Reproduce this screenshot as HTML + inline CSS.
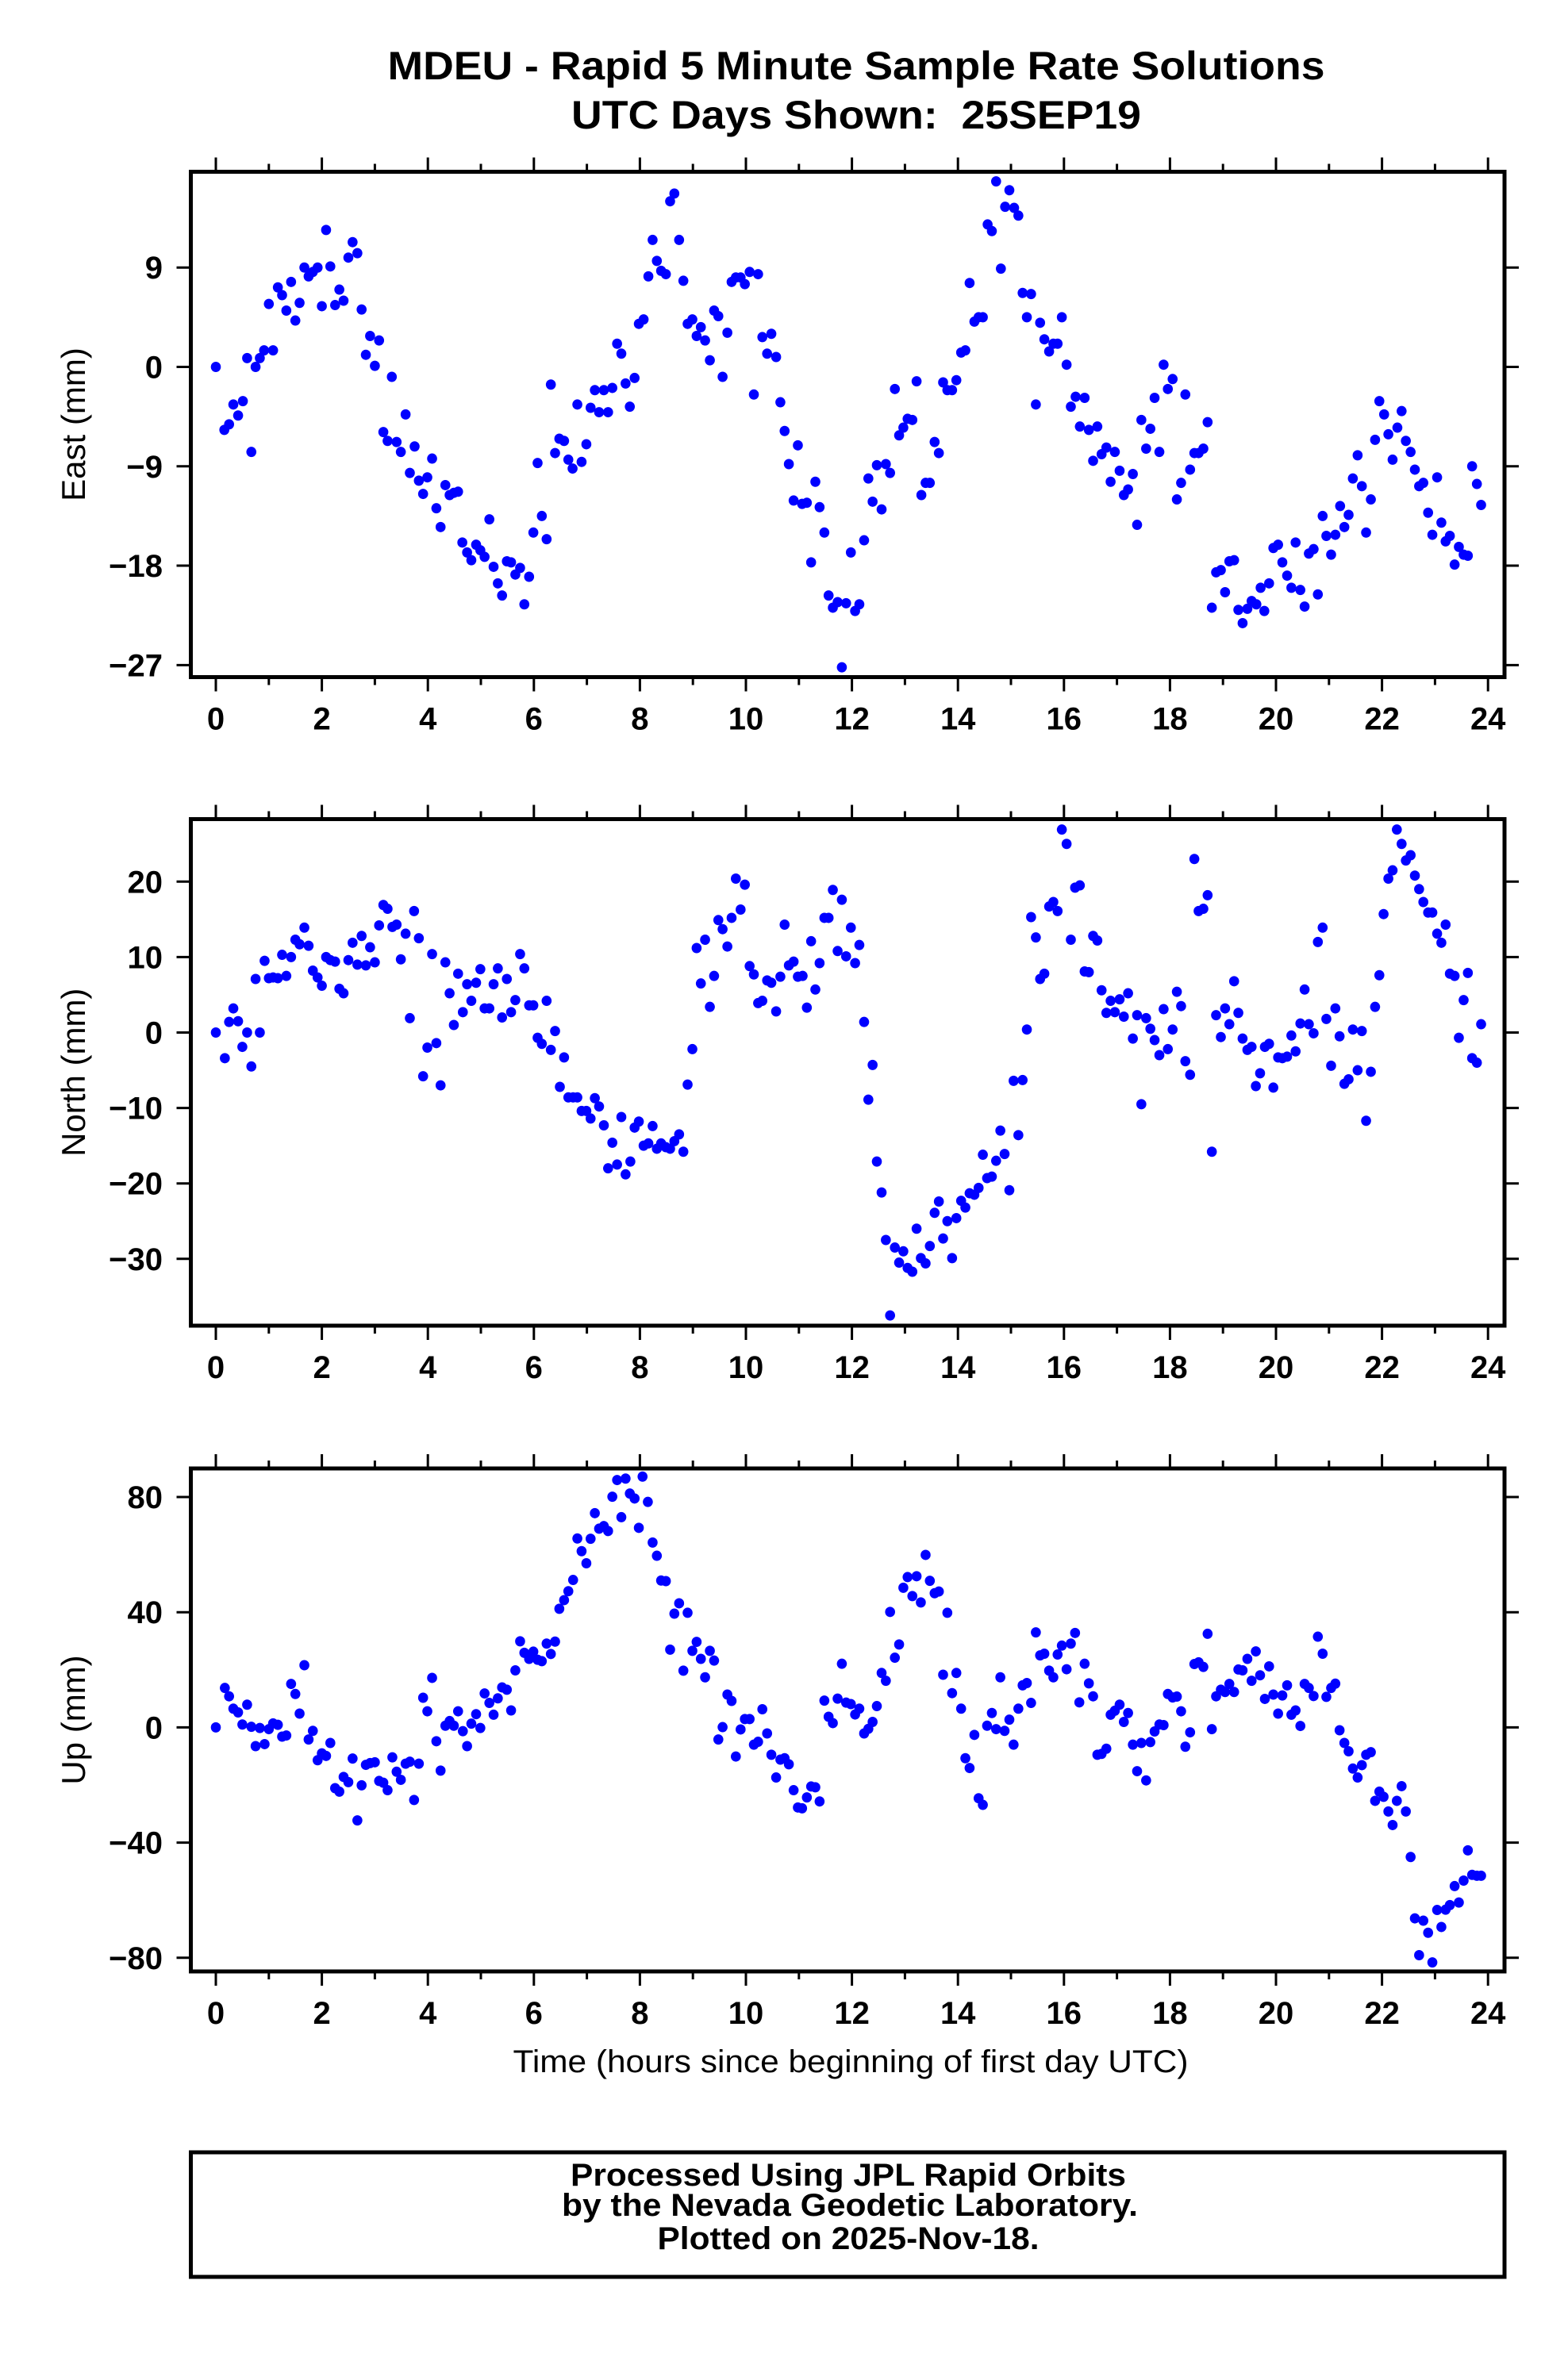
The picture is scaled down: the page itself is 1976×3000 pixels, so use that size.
<!DOCTYPE html>
<html><head><meta charset="utf-8"><style>body{margin:0;background:#fff}svg{display:block}text{font-family:"Liberation Sans",sans-serif}</style></head>
<body>
<svg id="chart" width="1976" height="3000" viewBox="0 0 1976 3000" xmlns="http://www.w3.org/2000/svg">
<text x="1079" y="100" text-anchor="middle" font-size="50" font-weight="bold" textLength="1181" lengthAdjust="spacingAndGlyphs">MDEU - Rapid 5 Minute Sample Rate Solutions</text>
<text x="1079" y="162" text-anchor="middle" font-size="50" font-weight="bold" textLength="718" lengthAdjust="spacingAndGlyphs" xml:space="preserve">UTC Days Shown:  25SEP19</text>
<g id="plots"></g>
<text x="1072" y="2612" text-anchor="middle" font-size="40" textLength="851" lengthAdjust="spacingAndGlyphs">Time (hours since beginning of first day UTC)</text>
<rect x="240.5" y="2713" width="1655.5" height="157" fill="none" stroke="#000" stroke-width="5"/>
<text x="1069" y="2755" text-anchor="middle" font-size="40" font-weight="bold" textLength="700" lengthAdjust="spacingAndGlyphs">Processed Using JPL Rapid Orbits</text>
<text x="1071" y="2793" text-anchor="middle" font-size="40" font-weight="bold" textLength="726" lengthAdjust="spacingAndGlyphs">by the Nevada Geodetic Laboratory.</text>
<text x="1069" y="2835" text-anchor="middle" font-size="40" font-weight="bold" textLength="481" lengthAdjust="spacingAndGlyphs">Plotted on 2025-Nov-18.</text>
</svg>
<script>
const xTicks = [0,2,4,6,8,10,12,14,16,18,20,22,24];
const eastTicks = [9,0,-9,-18,-27];
const northTicks = [20,10,0,-10,-20,-30];
const upTicks = [80,40,0,-40,-80];

const eastTimes = [0,0.16,0.25,0.33,0.42,0.51,0.59,0.67,0.75,0.83,0.91,1.0,1.08,1.17,1.25,1.33,1.42,1.5,1.58,1.67,1.75,1.83,1.92,2.0,2.08,2.16,2.25,2.33,2.41,2.5,2.58,2.67,2.75,2.83,2.91,3.0,3.08,3.16,3.24,3.32,3.41,3.49,3.58,3.66,3.75,3.83,3.91,3.99,4.08,4.16,4.24,4.33,4.41,4.49,4.57,4.65,4.74,4.82,4.91,4.99,5.07,5.16,5.24,5.32,5.4,5.49,5.57,5.65,5.74,5.82,5.91,5.99,6.07,6.15,6.24,6.32,6.4,6.48,6.57,6.65,6.73,6.82,6.9,6.99,7.07,7.15,7.23,7.32,7.4,7.48,7.57,7.65,7.73,7.81,7.9,7.98,
8.07,8.16,8.24,8.32,8.4,8.49,8.57,8.65,8.74,8.82,8.9,8.99,9.07,9.15,9.23,9.32,9.4,9.48,9.56,9.65,9.73,9.81,9.9,9.98,10.07,10.15,10.23,10.31,10.4,10.48,10.57,10.65,10.73,10.81,10.9,10.98,11.06,11.15,11.23,11.31,11.39,11.48,11.56,11.64,11.73,11.81,11.89,11.98,12.06,12.14,12.23,12.31,12.39,12.47,12.56,12.64,12.72,12.81,12.89,12.97,13.05,13.14,13.22,13.31,13.39,13.47,13.56,13.64,13.72,13.8,13.89,13.97,14.06,14.14,14.22,14.31,14.39,14.47,14.56,14.64,14.72,14.81,14.89,14.97,15.06,15.14,15.22,15.3,15.38,15.47,15.55,15.63,15.72,15.8,15.88,15.96,16.05,
16.13,16.22,16.3,16.39,16.47,16.55,16.63,16.71,16.8,16.88,16.96,17.05,17.13,17.21,17.3,17.38,17.46,17.55,17.63,17.71,17.8,17.88,17.96,18.05,18.13,18.21,18.29,18.38,18.46,18.54,18.63,18.71,18.79,18.87,18.96,19.04,19.12,19.21,19.29,19.37,19.46,19.54,19.63,19.71,19.78,19.87,19.95,20.04,20.12,20.21,20.29,20.37,20.46,20.54,20.62,20.71,20.79,20.88,20.95,21.04,21.12,21.21,21.29,21.37,21.45,21.54,21.62,21.7,21.79,21.87,21.95,22.04,22.12,22.2,22.29,22.37,22.45,22.54,22.62,22.7,22.78,22.87,22.95,23.04,23.12,23.2,23.28,23.37,23.45,23.54,23.62,23.7,23.79,23.87];
const eastValues = [0,-5.7,-5.2,-3.4,-4.4,-3.1,0.8,-7.7,0,0.8,1.5,5.7,1.5,7.2,6.5,5.1,7.7,4.2,5.8,9.0,8.2,8.6,9.0,5.5,12.4,9.1,5.6,7.0,6.0,9.9,11.3,10.3,5.2,1.1,2.8,0.1,2.4,-5.9,-6.7,-0.9,-6.8,-7.7,-4.3,-9.6,-7.2,-10.3,-11.5,-10.0,-8.3,-12.8,-14.5,-10.7,-11.6,-11.4,-11.3,-15.9,-16.8,-17.5,-16.1,-16.6,-17.2,-13.8,-18.1,-19.6,-20.7,-17.6,-17.7,-18.8,-18.2,-21.5,-19.0,-15.0,-8.7,-13.5,-15.6,-1.6,-7.8,-6.5,-6.7,-8.4,-9.2,-3.4,-8.6,-7.0,-3.7,-2.1,-4.1,-2.1,-4.1,-1.9,2.1,1.2,-1.5,-3.6,-1.0,3.9,
4.3,8.2,11.5,9.6,8.7,8.4,15.0,15.7,11.5,7.8,3.9,4.3,2.8,3.6,2.4,0.6,5.1,4.6,-0.9,3.1,7.7,8.1,8.1,7.5,8.6,-2.5,8.4,2.7,1.2,3.0,0.9,-3.2,-5.8,-8.8,-12.1,-7.1,-12.4,-12.3,-17.7,-10.4,-12.7,-15.0,-20.7,-21.8,-21.3,-27.2,-21.4,-16.8,-22.1,-21.5,-15.7,-10.1,-12.2,-8.9,-12.9,-8.8,-9.6,-2.0,-6.2,-5.5,-4.7,-4.8,-1.3,-11.6,-10.5,-10.5,-6.8,-7.8,-1.4,-2.1,-2.1,-1.2,1.3,1.5,7.6,4.1,4.5,4.5,12.9,12.3,16.8,8.9,14.5,16.0,14.4,13.7,6.7,4.5,6.6,-3.4,4.0,2.5,1.4,2.1,2.1,4.5,0.2,
-3.6,-2.7,-5.4,-2.8,-5.7,-8.5,-5.4,-7.9,-7.3,-10.4,-7.7,-9.4,-11.6,-11.1,-9.7,-14.3,-4.8,-7.4,-5.6,-2.8,-7.7,0.2,-2.0,-1.1,-12.0,-10.5,-2.5,-9.3,-7.8,-7.8,-7.4,-5.0,-21.8,-18.6,-18.4,-20.4,-17.6,-17.5,-22.0,-23.2,-21.9,-21.2,-21.5,-20.0,-22.1,-19.6,-16.4,-16.1,-17.7,-18.9,-20.0,-15.9,-20.2,-21.7,-16.9,-16.5,-20.6,-13.5,-15.3,-17.0,-15.2,-12.6,-14.5,-13.4,-10.1,-8.0,-10.8,-15.0,-12.0,-6.6,-3.1,-4.3,-6.1,-8.4,-5.5,-4.0,-6.7,-7.7,-9.3,-10.8,-10.5,-13.2,-15.2,-10.0,-14.1,-15.8,-15.3,-17.9,-16.3,-17.0,-17.1,-9.0,-10.6,-12.5];

const northTimes = [0,0.17,0.25,0.33,0.42,0.5,0.59,0.67,0.75,0.83,0.92,1.0,1.08,1.17,1.25,1.33,1.42,1.5,1.58,1.67,1.75,1.83,1.92,2.0,2.08,2.16,2.25,2.33,2.41,2.5,2.58,2.67,2.75,2.83,2.91,3.0,3.08,3.16,3.24,3.33,3.41,3.49,3.58,3.66,3.74,3.83,3.91,3.99,4.08,4.16,4.24,4.33,4.41,4.49,4.57,4.66,4.74,4.82,4.91,4.99,5.07,5.16,5.24,5.32,5.4,5.49,5.57,5.65,5.74,5.82,5.91,5.99,6.07,6.15,6.24,6.32,6.4,6.49,6.57,6.65,6.74,6.82,6.9,6.99,7.07,7.15,7.23,7.32,7.4,7.48,7.57,7.65,7.73,7.82,7.9,7.98,
8.07,8.16,8.24,8.32,8.4,8.49,8.57,8.65,8.74,8.82,8.9,8.99,9.07,9.15,9.23,9.32,9.4,9.48,9.56,9.65,9.73,9.81,9.9,9.98,10.07,10.15,10.23,10.31,10.4,10.48,10.57,10.65,10.73,10.81,10.9,10.98,11.07,11.15,11.23,11.31,11.39,11.48,11.56,11.64,11.73,11.81,11.89,11.98,12.06,12.14,12.23,12.31,12.39,12.47,12.56,12.64,12.72,12.81,12.89,12.97,13.05,13.14,13.22,13.3,13.39,13.47,13.56,13.64,13.72,13.8,13.89,13.97,14.06,14.14,14.22,14.31,14.39,14.47,14.55,14.64,14.72,14.8,14.88,14.97,15.05,15.14,15.22,15.3,15.38,15.47,15.55,15.63,15.72,15.8,15.88,15.96,16.05,
16.13,16.21,16.3,16.39,16.47,16.55,16.63,16.71,16.8,16.88,16.96,17.05,17.13,17.21,17.3,17.38,17.46,17.55,17.63,17.71,17.8,17.88,17.96,18.05,18.13,18.21,18.29,18.38,18.46,18.54,18.63,18.71,18.79,18.87,18.96,19.04,19.12,19.21,19.29,19.37,19.46,19.54,19.62,19.7,19.79,19.87,19.95,20.04,20.12,20.21,20.29,20.37,20.46,20.54,20.62,20.71,20.79,20.88,20.95,21.04,21.12,21.2,21.29,21.37,21.45,21.54,21.62,21.7,21.79,21.87,21.95,22.03,22.12,22.2,22.28,22.37,22.45,22.54,22.62,22.7,22.78,22.87,22.95,23.04,23.12,23.2,23.28,23.37,23.45,23.54,23.62,23.7,23.79,23.87];
const northValues = [0,-3.4,1.4,3.2,1.5,-1.9,0,-4.5,7.1,0,9.5,7.2,7.3,7.2,10.3,7.5,10.0,12.3,11.7,13.9,11.5,8.2,7.3,6.2,10.0,9.6,9.4,5.8,5.2,9.6,11.9,9.0,12.8,8.9,11.3,9.3,14.2,16.9,16.4,14.0,14.3,9.7,13.1,1.9,16.1,12.5,-5.8,-2.0,10.4,-1.4,-7.0,9.3,5.2,1.0,7.8,2.7,6.4,4.2,6.6,8.4,3.2,3.2,6.4,8.5,2.0,7.1,2.7,4.3,10.4,8.5,3.6,3.6,-0.7,-1.5,4.2,-2.3,0.2,-7.2,-3.3,-8.6,-8.6,-8.6,-10.4,-10.4,-11.4,-8.7,-9.8,-12.3,-18.0,-14.6,-17.5,-11.2,-18.8,-17.1,-12.6,-11.8,
-15.0,-14.7,-12.4,-15.4,-14.7,-15.2,-15.4,-14.4,-13.5,-15.8,-6.9,-2.2,11.2,6.5,12.3,3.4,7.5,14.9,13.7,11.4,15.2,20.4,16.3,19.6,8.8,7.7,3.9,4.2,6.9,6.6,2.8,7.4,14.3,8.9,9.4,7.4,7.5,3.3,12.1,5.7,9.2,15.2,15.2,18.9,10.8,17.6,10.1,13.9,9.2,11.6,1.4,-8.9,-4.3,-17.1,-21.2,-27.5,-37.5,-28.5,-30.5,-29.0,-31.2,-31.7,-26.0,-29.9,-30.6,-28.3,-23.9,-22.4,-27.3,-25.0,-29.9,-24.6,-22.3,-23.2,-21.3,-21.5,-20.6,-16.2,-19.3,-19.1,-17.0,-13.0,-16.1,-20.9,-6.4,-13.6,-6.3,0.4,15.3,12.6,7.1,7.8,16.7,17.3,16.1,26.9,25.0,
12.3,19.2,19.5,8.1,8.0,12.8,12.2,5.6,2.6,4.2,2.7,4.4,2.1,5.2,-0.8,2.3,-9.5,1.9,0.5,-1.0,-3.0,3.1,-2.2,0.4,5.4,3.5,-3.8,-5.6,23.0,16.1,16.4,18.2,-15.8,2.3,-0.6,3.2,1.1,6.8,2.6,-0.8,-2.3,-1.9,-7.1,-5.4,-1.9,-1.5,-7.3,-3.3,-3.4,-3.2,-0.4,-2.5,1.2,5.7,1.1,-0.1,12.0,13.9,1.8,-4.4,3.2,-0.5,-6.8,-6.2,0.4,-5.0,0.2,-11.7,-5.2,3.4,7.6,15.7,20.4,21.5,26.9,25.0,22.8,23.5,20.8,19.0,17.3,15.9,15.9,13.1,11.9,14.3,7.8,7.5,-0.7,4.3,7.9,-3.4,-4.0,1.1];

const upTimes = [0,0.17,0.25,0.33,0.42,0.5,0.59,0.67,0.75,0.83,0.92,1.0,1.08,1.17,1.25,1.33,1.42,1.5,1.58,1.67,1.75,1.83,1.92,2.0,2.08,2.16,2.25,2.33,2.41,2.5,2.58,2.67,2.75,2.83,2.91,3.0,3.08,3.16,3.24,3.33,3.41,3.49,3.58,3.66,3.74,3.83,3.91,3.99,4.08,4.16,4.24,4.33,4.41,4.49,4.57,4.66,4.74,4.82,4.91,4.99,5.07,5.16,5.24,5.32,5.4,5.49,5.57,5.65,5.74,5.82,5.91,5.99,6.07,6.15,6.24,6.32,6.4,6.48,6.57,6.65,6.74,6.82,6.9,6.99,7.07,7.15,7.23,7.32,7.4,7.48,7.57,7.65,7.73,7.81,7.9,7.98,8.05,
8.15,8.24,8.32,8.4,8.49,8.57,8.65,8.74,8.82,8.9,8.99,9.07,9.15,9.23,9.32,9.4,9.48,9.56,9.65,9.73,9.81,9.9,9.98,10.07,10.15,10.23,10.31,10.4,10.48,10.57,10.65,10.73,10.81,10.9,10.98,11.06,11.15,11.23,11.31,11.39,11.48,11.56,11.64,11.73,11.81,11.89,11.98,12.06,12.14,12.23,12.31,12.39,12.47,12.56,12.64,12.72,12.81,12.89,12.97,13.05,13.14,13.22,13.3,13.39,13.47,13.56,13.64,13.72,13.8,13.89,13.97,14.06,14.14,14.22,14.31,14.39,14.47,14.55,14.64,14.72,14.8,14.88,14.97,15.05,15.14,15.22,15.3,15.38,15.47,15.55,15.63,15.72,15.8,15.88,15.96,16.05,16.13,16.21,16.29,
16.39,16.47,16.55,16.63,16.71,16.8,16.88,16.96,17.05,17.13,17.21,17.3,17.38,17.46,17.55,17.63,17.71,17.8,17.88,17.96,18.05,18.13,18.21,18.29,18.38,18.46,18.54,18.63,18.71,18.79,18.87,18.96,19.04,19.12,19.21,19.29,19.37,19.46,19.54,19.62,19.7,19.79,19.87,19.95,20.04,20.12,20.21,20.29,20.37,20.46,20.54,20.62,20.71,20.79,20.88,20.95,21.04,21.12,21.2,21.29,21.37,21.45,21.54,21.62,21.7,21.79,21.87,21.95,22.03,22.12,22.2,22.28,22.37,22.45,22.54,22.62,22.7,22.78,22.87,22.95,23.04,23.12,23.2,23.28,23.37,23.45,23.54,23.62,23.7,23.79,23.87];
const upValues = [0,13.7,10.8,6.5,5.2,1.0,7.9,0.2,-6.5,-0.2,-5.8,-0.6,1.4,0.9,-3.2,-2.8,15.1,11.6,4.8,21.6,-4.2,-1.2,-11.4,-9.0,-9.9,-5.4,-21.1,-22.3,-17.2,-19.0,-10.8,-32.3,-20.1,-13.0,-12.4,-12.1,-18.6,-19.2,-21.8,-10.4,-15.4,-18.2,-12.6,-11.9,-25.2,-12.6,10.3,5.6,17.2,-4.8,-15.0,0.6,2.2,0.6,5.6,-1.3,-6.5,1.3,4.6,-0.2,11.8,8.5,4.4,10.1,13.9,13.1,5.9,19.8,29.9,25.9,23.8,26.3,23.5,23.0,29.1,25.5,29.8,41.2,44.2,47.3,51.2,65.6,61.2,57.0,65.5,74.4,69.0,69.9,68.2,80.1,85.9,73.0,86.4,81.2,79.5,69.3,87.1,
78.3,64.2,59.6,51.0,50.8,27.0,39.5,43.1,19.7,39.8,26.6,29.7,23.8,17.4,26.6,23.2,-4.2,0.1,11.4,9.2,-10.1,-0.7,2.9,2.9,-6.0,-5.0,6.3,-2.1,-9.5,-17.4,-11.2,-10.7,-12.8,-21.8,-27.8,-28.1,-24.3,-20.5,-20.8,-25.7,9.3,3.7,1.5,10.0,22.1,8.6,8.1,4.5,6.5,-2.1,-0.5,1.9,7.4,18.9,16.2,40.1,24.2,28.8,48.5,52.2,45.6,52.5,43.4,59.9,50.9,46.6,47.2,18.3,39.8,11.9,18.9,6.5,-10.7,-14.1,-2.6,-24.6,-26.9,0.6,5.0,-0.6,17.4,-1.2,2.7,-6.0,6.5,14.6,15.4,8.5,33.0,25.0,25.6,19.7,17.4,25.3,28.4,20.2,29.1,32.8,8.7,
22.1,15.3,10.8,-9.5,-9.2,-7.4,4.4,5.8,7.9,1.9,5.0,-6.0,-15.2,-5.4,-18.4,-5.1,-1.4,1.0,0.8,11.6,10.4,10.7,5.6,-6.7,-1.7,22.0,22.6,21.0,32.5,-0.6,10.8,13.1,12.3,15.1,12.3,20.1,19.8,23.8,16.2,26.4,18.1,9.9,21.2,11.4,4.8,11.1,14.6,4.4,5.9,0.5,15.1,13.7,10.9,31.5,25.6,10.6,13.7,15.2,-1.0,-5.4,-8.3,-14.3,-17.4,-13.1,-9.5,-8.6,-25.5,-22.3,-24.1,-29.2,-33.9,-25.5,-20.4,-29.2,-45.0,-66.3,-79.1,-67.1,-71.3,-81.6,-63.4,-69.3,-63.3,-61.7,-55.1,-60.8,-53.2,-42.7,-51.2,-51.5,-51.5];

const NS='http://www.w3.org/2000/svg';
const g=document.getElementById('plots');
const X0=240.5,X1=1896;
function xScale(h){return 272+66.8*h;}
function mk(tag,attrs){const e=document.createElementNS(NS,tag);for(const k in attrs)e.setAttribute(k,attrs[k]);return e;}
function panel(name,title,times,vals,ticks,top,bot,zeroY,pxPerUnit){
  const y=v=>zeroY-v*pxPerUnit;
  const grp=mk('g',{});
  
  
  g.appendChild(grp);
  for(let h=0;h<=24;h++){
    const x=xScale(h);
    const len=(h%2===0)?18:10;
    const a=mk('line',{x1:x,x2:x,y1:bot,y2:bot+len,stroke:'#000','stroke-width':3});
    
    
    grp.appendChild(a);
    const b=mk('line',{x1:x,x2:x,y1:top,y2:top-len,stroke:'#000','stroke-width':3});
    
    
    grp.appendChild(b);
  }
  xTicks.forEach(t=>{
    const l=mk('text',{x:xScale(t),y:bot+66,'text-anchor':'middle','font-size':40,'font-weight':'bold'});
    l.textContent=t;
    
    
    grp.appendChild(l);
  });
  ticks.forEach(t=>{
    const yy=y(t);
    const a=mk('line',{x1:X0-18,x2:X0,y1:yy,y2:yy,stroke:'#000','stroke-width':3});
    
    
    grp.appendChild(a);
    const b=mk('line',{x1:X1,x2:X1+18,y1:yy,y2:yy,stroke:'#000','stroke-width':3});
    
    
    grp.appendChild(b);
    const l=mk('text',{x:205,y:yy+14,'text-anchor':'end','font-size':40,'font-weight':'bold'});
    l.textContent=String(t).replace('-','\u2212');
    
    
    grp.appendChild(l);
  });
  const ty=(top+bot)/2;
  const tt=mk('text',{x:0,y:0,'text-anchor':'middle','font-size':42,transform:`translate(107,${ty}) rotate(-90)`});
  tt.textContent=title;
  
  
  grp.appendChild(tt);
  const n=Math.min(times.length,vals.length);
  for(let i=0;i<n;i++){
    const c=mk('ellipse',{cx:xScale(times[i]),cy:y(vals[i]),rx:6.3,ry:6.5,fill:'#0000ff'});
    
    
    grp.appendChild(c);
  }
  const r=mk('rect',{x:X0,y:top,width:X1-X0,height:bot-top,fill:'none',stroke:'#000','stroke-width':5});
  
  
  grp.appendChild(r);
}
panel('east','East (mm)',eastTimes,eastValues,eastTicks,216.5,853.5,462.5,13.92);
panel('north','North (mm)',northTimes,northValues,northTicks,1032.5,1671,1301.5,9.51);
panel('up','Up (mm)',upTimes,upValues,upTicks,1851,2485,2177.4,3.63);
</script>
</body></html>
